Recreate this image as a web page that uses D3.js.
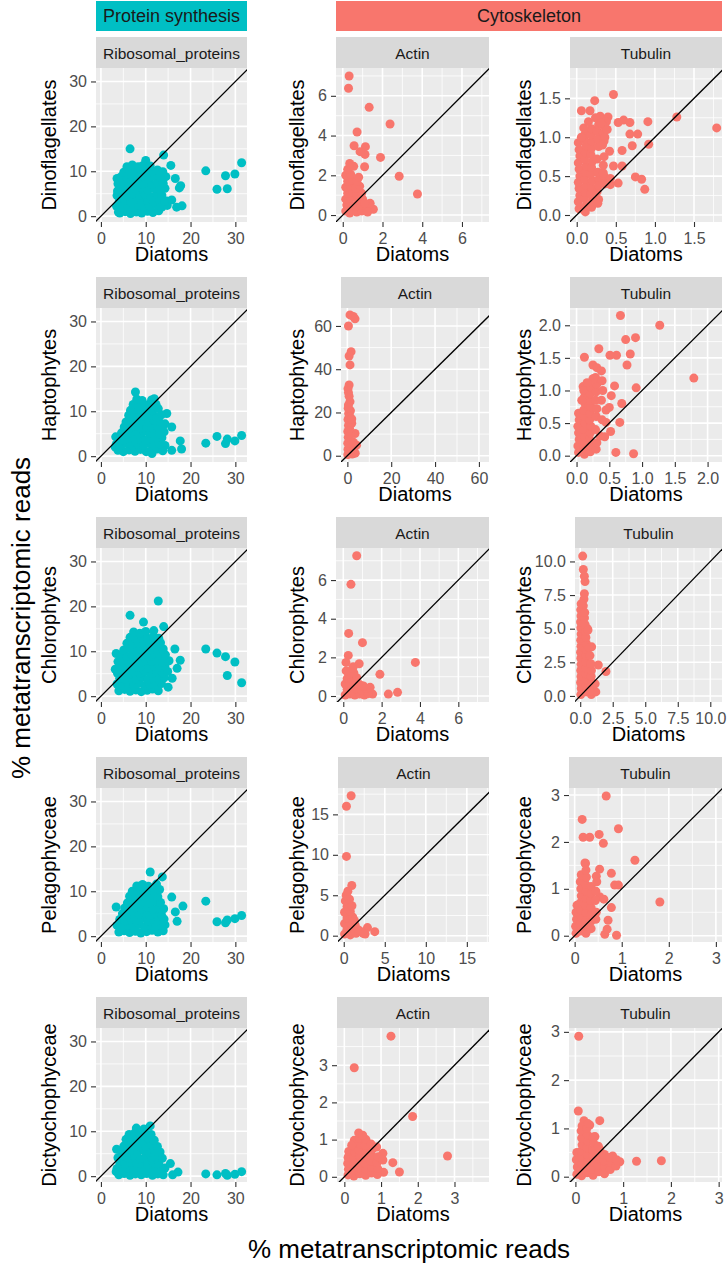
<!DOCTYPE html>
<html>
<head>
<meta charset="utf-8">
<script src="https://cdn.jsdelivr.net/npm/d3@7"></script>
<style>
  body { margin: 0; background: #fff; }
  svg { display: block; font-family: "Liberation Sans", Arial, sans-serif; }
</style>
</head>
<body>
<div id="chart"></div>
<script>
// chart size
var svgWidth = 728;
var svgHeight = 1265;

// facet labels
var groups = ["Ribosomal_proteins", "Actin", "Tubulin"];
var taxa = ["Dinoflagellates", "Haptophytes", "Chlorophytes", "Pelagophyceae", "Dictyochophyceae"];
var xTitle = "Diatoms";
var bigTitle = "% metatranscriptomic reads";

// tick labels, one list per panel (row = taxon, column = gene group)
var tickValues = [
    [[0, 10, 20, 30], [0, 2, 4, 6], [0, 0.5, 1, 1.5]],
    [[0, 10, 20, 30], [0, 20, 40, 60], [0, 0.5, 1, 1.5, 2]],
    [[0, 10, 20, 30], [0, 2, 4, 6], [0, 2.5, 5, 7.5, 10]],
    [[0, 10, 20, 30], [0, 5, 10, 15], [0, 1, 2, 3]],
    [[0, 10, 20, 30], [0, 1, 2, 3], [0, 1, 2, 3]]
];
var tickDecimals = [
    [0, 0, 1],
    [0, 0, 1],
    [0, 0, 1],
    [0, 0, 0],
    [0, 0, 0]
];

// % reads: [diatoms, other taxon]
var riboDino = [
    [23.4, 10.1], [25.9, 6.0], [27.8, 9.0], [28.2, 6.1], [29.9, 9.4], [31.4, 11.9],
    [6.5, 15.0], [14.0, 13.6], [10.0, 12.4], [15.6, 11.3], [16.6, 8.4], [17.8, 6.8], [17.5, 6.3],
    [15.8, 3.6], [16.9, 2.0], [18.1, 2.3], [14.7, 3.4], [3.6, 8.4], [3.7, 5.6], [3.9, 0.9],
    [4.2, 0.7], [5.4, 1.0], [6.6, 0.6], [7.9, 0.9], [9.1, 0.7], [10.4, 1.1], [11.6, 0.8], [12.9, 1.2],
    [3.5, 2.2], [4.8, 1.9], [6.0, 2.3], [7.2, 2.0], [8.5, 2.4], [9.8, 1.9], [11.0, 2.2], [12.3, 2.5], [13.6, 2.0], [14.8, 2.4],
    [4.1, 3.3], [5.3, 3.6], [6.6, 3.2], [7.8, 3.7], [9.1, 3.3], [10.4, 3.5], [11.7, 3.2], [12.9, 3.8], [14.2, 3.4],
    [3.6, 4.6], [4.8, 4.9], [6.1, 4.5], [7.3, 5.0], [8.6, 4.6], [9.9, 4.8], [11.1, 4.4], [12.4, 5.0], [13.6, 4.7],
    [4.2, 6.1], [5.5, 5.8], [6.7, 6.3], [8.0, 5.9], [9.2, 6.2], [10.5, 5.8], [11.8, 6.3], [13.0, 6.0], [14.3, 6.2],
    [3.8, 7.2], [5.0, 7.5], [6.2, 7.1], [7.5, 7.6], [8.8, 7.2], [10.0, 7.4], [11.3, 7.1], [12.6, 7.6], [13.9, 7.3],
    [4.4, 8.7], [5.7, 8.5], [6.9, 8.9], [8.2, 8.4], [9.4, 8.8], [10.7, 8.5], [12.0, 8.9], [13.2, 8.6], [14.5, 8.8],
    [5.1, 9.8], [6.3, 10.1], [7.6, 9.7], [8.9, 10.2], [10.1, 9.9], [11.4, 10.0], [12.6, 10.3], [13.8, 9.9],
    [5.8, 11.0], [7.0, 11.4], [8.3, 11.0], [9.4, 11.3], [11.0, 11.2]
];
var actinDino = [
    [0.32, 7.0], [0.29, 6.38], [1.33, 5.42], [2.38, 4.58], [0.72, 4.18], [0.57, 3.49], [1.14, 3.44],
    [1.12, 3.05], [0.87, 3.19], [1.9, 2.9], [1.1, 2.43], [2.84, 1.95], [3.76, 1.06], [1.54, 0.29], [1.38, 0.59],
    [0.15, 0.2], [0.35, 0.1], [0.2, 0.5], [0.45, 0.45], [0.15, 0.8], [0.4, 0.85], [0.25, 1.1], [0.5, 1.15],
    [0.15, 1.4], [0.4, 1.45], [0.25, 1.7], [0.5, 1.75], [0.15, 2.0], [0.4, 2.05], [0.25, 2.3], [0.55, 2.45], [0.35, 2.6],
    [0.7, 0.15], [0.95, 0.2], [0.65, 0.45], [0.9, 0.5], [0.75, 0.75], [1.0, 0.8], [0.7, 1.05], [0.95, 1.1],
    [0.65, 1.35], [0.85, 1.45], [0.7, 1.7], [0.8, 1.9], [1.2, 0.3], [1.35, 0.55], [1.25, 0.15], [1.1, 0.6]
];
var tubulinDino = [
    [0.47, 1.55], [0.23, 1.47], [0.06, 1.34], [0.17, 1.34], [0.30, 1.27], [0.40, 1.26], [0.38, 1.2],
    [0.53, 1.19], [0.6, 1.22], [0.68, 1.19], [0.91, 1.2], [1.28, 1.26], [1.79, 1.12], [0.68, 1.04],
    [0.78, 1.04], [0.71, 0.89], [0.58, 0.83], [0.92, 0.91], [0.47, 0.63], [0.58, 0.63], [0.75, 0.49],
    [0.83, 0.46], [0.87, 0.33], [0.53, 0.41], [0.43, 0.39], [0.28, 0.2], [0.21, 0.16], [0.09, 0.09],
    [0.03, 0.08], [0.02, 0.17], [0.04, 0.25], [0.03, 0.34], [0.02, 0.42], [0.04, 0.50], [0.03, 0.59], [0.02, 0.67], [0.04, 0.76], [0.03, 0.84], [0.02, 0.93],
    [0.11, 0.04], [0.12, 0.12], [0.10, 0.21], [0.11, 0.29], [0.12, 0.38], [0.10, 0.46], [0.11, 0.55], [0.12, 0.63], [0.10, 0.72], [0.11, 0.80], [0.12, 0.89], [0.10, 0.97], [0.11, 1.05],
    [0.19, 0.10], [0.20, 0.18], [0.18, 0.27], [0.19, 0.35], [0.20, 0.44], [0.18, 0.52], [0.19, 0.61], [0.20, 0.69], [0.18, 0.78], [0.19, 0.86], [0.20, 0.95], [0.18, 1.03], [0.19, 1.11],
    [0.27, 0.15], [0.26, 0.30], [0.28, 0.46], [0.27, 0.55], [0.26, 0.72], [0.28, 0.88], [0.27, 0.98], [0.26, 1.08], [0.28, 1.16],
    [0.35, 0.50], [0.35, 0.95], [0.34, 1.05], [0.36, 1.13],
    [0.06, 1.0], [0.09, 1.12], [0.15, 1.2], [0.24, 1.25], [0.31, 1.18], [0.36, 1.0], [0.33, 0.9], [0.39, 1.1],
    [0.34, 0.54], [0.43, 0.47], [0.36, 0.4], [0.28, 0.38], [0.35, 0.75], [0.42, 0.82], [0.34, 0.64]
];
var riboHapto = [
    [23.4, 2.9], [25.9, 4.4], [27.8, 2.8], [28.2, 3.8], [29.9, 3.4], [31.4, 4.6],
    [7.7, 14.3], [11.9, 12.8], [14.7, 9.5], [14.3, 7.2], [15.8, 6.5], [14.1, 5.4], [17.7, 3.4],
    [18.0, 1.6], [15.8, 1.3], [14.3, 2.4], [11.4, 0.6], [3.3, 4.3], [3.2, 2.0],
    [3.8, 1.3], [5.0, 1.0], [6.3, 1.4], [7.6, 1.1], [8.8, 1.5], [10.1, 1.0], [11.4, 1.3], [12.6, 1.6], [13.8, 1.2],
    [3.4, 2.6], [4.5, 2.4], [5.7, 2.8], [7.0, 2.3], [8.2, 2.7], [9.5, 2.4], [10.7, 2.8], [12.0, 2.5], [13.2, 2.7],
    [3.9, 3.9], [5.1, 3.6], [6.4, 4.0], [7.6, 3.7], [8.9, 4.1], [10.1, 3.6], [11.4, 3.9], [12.7, 3.7], [13.6, 4.1],
    [4.6, 5.2], [5.8, 4.9], [7.0, 5.3], [8.3, 5.0], [9.5, 5.4], [10.8, 5.1], [12.0, 5.3], [13.1, 5.0],
    [5.2, 6.5], [6.4, 6.2], [7.7, 6.6], [8.9, 6.3], [10.2, 6.5], [11.4, 6.2], [12.6, 6.6], [13.7, 6.3],
    [5.6, 7.6], [6.9, 7.9], [8.1, 7.5], [9.4, 7.8], [10.6, 7.6], [11.9, 8.0], [13.0, 7.7],
    [6.2, 9.1], [7.4, 8.8], [8.7, 9.2], [9.9, 8.9], [11.2, 9.1], [12.4, 8.8], [13.5, 9.2],
    [6.6, 10.2], [7.9, 10.5], [9.1, 10.1], [10.4, 10.4], [11.6, 10.2], [12.8, 10.6],
    [7.2, 11.5], [8.5, 11.8], [9.8, 11.4], [11.0, 11.7], [12.3, 11.5],
    [8.0, 12.7], [9.2, 12.4], [11.3, 12.5]
];
var actinHapto = [
    [1.2, 65.1], [2.7, 64.4], [3.5, 63.3], [0.5, 60.0], [1.7, 48.1], [0.8, 46.1], [1.2, 42.0],
    [0.8, 32.7], [0.5, 29.2], [1.2, 25.0], [0.5, 23.5], [3.5, 10.3], [4.2, 4.9], [2.0, 15.0],
    [0.2, 0.5], [1.2, 1.5], [2.2, 0.8], [0.3, 3.0], [1.3, 4.2], [2.5, 2.8], [0.2, 5.8], [1.1, 7.0],
    [0.4, 8.5], [1.4, 9.8], [0.2, 11.2], [1.0, 12.6], [0.5, 14.0], [1.5, 15.3], [0.3, 16.8], [1.1, 18.2],
    [0.6, 19.5], [1.4, 20.8], [0.4, 22.0], [2.0, 17.0], [3.0, 3.5], [3.6, 1.2], [2.8, 6.2], [0.8, 27.5], [0.3, 31.0]
];
var tubulinHapto = [
    [0.67, 2.15], [1.27, 2.0], [0.9, 1.81], [0.75, 1.78], [0.34, 1.64], [0.61, 1.54], [0.51, 1.54],
    [0.82, 1.56], [0.12, 1.51], [0.77, 1.39], [0.25, 1.39], [0.31, 1.35], [1.79, 1.19], [0.91, 1.04],
    [0.58, 1.07], [0.53, 0.92], [0.5, 0.74], [0.69, 0.8], [0.45, 0.51], [0.66, 0.51], [0.52, 0.37],
    [0.43, 0.29], [0.6, 0.05], [0.87, 0.03], [0.1, 1.06],
    [0.03, 0.05], [0.02, 0.15], [0.04, 0.25], [0.03, 0.35], [0.02, 0.45], [0.04, 0.55], [0.03, 0.65],
    [0.12, 0.02], [0.11, 0.11], [0.13, 0.2], [0.12, 0.3], [0.11, 0.4], [0.13, 0.5], [0.12, 0.6], [0.11, 0.7], [0.13, 0.8], [0.12, 0.9], [0.11, 1.0],
    [0.21, 0.06], [0.22, 0.15], [0.20, 0.25], [0.21, 0.35], [0.22, 0.45], [0.20, 0.55], [0.21, 0.65], [0.22, 0.75], [0.20, 0.85], [0.21, 0.95], [0.22, 1.05],
    [0.30, 0.1], [0.31, 0.2], [0.29, 0.4], [0.30, 0.6], [0.31, 0.72], [0.29, 0.85], [0.30, 0.98], [0.31, 1.1], [0.29, 1.2],
    [0.39, 0.55], [0.38, 0.85], [0.40, 1.0], [0.39, 1.15], [0.38, 1.3],
    [0.08, 0.85], [0.45, 0.7], [0.36, 0.3], [0.25, 1.18], [0.16, 1.12]
];
var riboChloro = [
    [23.4, 10.5], [25.9, 9.6], [27.8, 8.8], [28.2, 4.6], [29.9, 7.6], [31.4, 3.0],
    [12.8, 21.2], [6.5, 18.0], [9.5, 16.5], [14.0, 15.5], [16.5, 10.5], [17.7, 8.0], [17.0, 6.2],
    [15.9, 4.0], [15.0, 2.0], [3.4, 9.5], [3.2, 6.0],
    [4.0, 1.2], [5.3, 1.5], [6.5, 1.1], [7.8, 1.4], [9.0, 1.0], [10.3, 1.3], [11.5, 1.6], [12.8, 1.2],
    [3.6, 2.7], [4.8, 2.4], [6.0, 2.8], [7.3, 2.5], [8.5, 2.9], [9.8, 2.4], [11.0, 2.7], [12.3, 2.5], [13.5, 2.8],
    [4.2, 4.0], [5.4, 3.7], [6.7, 4.1], [7.9, 3.8], [9.2, 4.2], [10.4, 3.7], [11.7, 4.0], [12.9, 3.8], [14.1, 4.1],
    [3.7, 5.1], [4.9, 5.4], [6.2, 5.0], [7.4, 5.3], [8.7, 5.1], [9.9, 5.5], [11.2, 5.0], [12.4, 5.3], [13.7, 5.2], [14.9, 5.5],
    [4.3, 6.6], [5.6, 6.3], [6.8, 6.7], [8.1, 6.4], [9.3, 6.8], [10.6, 6.3], [11.8, 6.6], [13.1, 6.4], [14.3, 6.7],
    [3.8, 7.7], [5.0, 8.0], [6.3, 7.6], [7.5, 7.9], [8.8, 7.5], [10.0, 8.0], [11.3, 7.7], [12.5, 7.9], [13.8, 7.6], [15.2, 7.9],
    [4.5, 9.2], [5.7, 8.9], [7.0, 9.3], [8.2, 9.0], [9.5, 9.2], [10.7, 8.9], [12.0, 9.3], [13.2, 9.0], [14.4, 9.2],
    [5.1, 10.3], [6.4, 10.6], [7.6, 10.2], [8.9, 10.5], [10.1, 10.3], [11.4, 10.6], [12.6, 10.2], [13.9, 10.5],
    [5.8, 11.8], [7.1, 11.5], [8.3, 11.9], [9.6, 11.6], [10.8, 11.8], [12.1, 11.5], [13.3, 11.9],
    [6.5, 13.1], [7.8, 12.8], [9.1, 13.2], [10.4, 12.9], [11.7, 13.3], [12.9, 12.9],
    [7.3, 14.3], [8.7, 14.0], [10.0, 14.4], [11.8, 14.6]
];
var actinChloro = [
    [0.70, 7.26], [0.4, 5.78], [0.28, 3.24], [1.0, 2.76], [0.26, 2.1], [0.14, 1.74], [0.83, 1.67],
    [0.52, 1.52], [3.76, 1.74], [1.91, 1.12], [2.35, 0.1], [2.83, 0.19], [1.53, 0.1],
    [0.1, 0.05], [0.35, 0.1], [0.6, 0.05], [0.85, 0.1], [1.1, 0.05], [1.3, 0.12],
    [0.2, 0.35], [0.45, 0.3], [0.7, 0.38], [0.95, 0.32], [1.2, 0.4], [1.4, 0.45],
    [0.1, 0.62], [0.35, 0.6], [0.6, 0.65], [0.85, 0.6], [1.05, 0.52],
    [0.2, 0.9], [0.45, 0.88], [0.7, 0.95], [0.3, 1.15], [0.55, 1.2], [0.15, 1.3], [0.48, 1.42]
];
var tubulinChloro = [
    [0.19, 10.4], [0.24, 9.4], [0.32, 8.9], [0.37, 8.5], [0.32, 7.6], [0.29, 7.2], [0.24, 6.7],
    [0.55, 5.0], [0.88, 3.65], [1.39, 2.3], [1.98, 1.82],
    [0.05, 0.1], [0.08, 0.55], [0.03, 1.0], [0.06, 1.45], [0.04, 1.9], [0.07, 2.35], [0.05, 2.8], [0.03, 3.25],
    [0.06, 3.7], [0.04, 4.15], [0.07, 4.6], [0.05, 5.05], [0.03, 5.5], [0.06, 5.95], [0.04, 6.4], [0.07, 6.85],
    [0.45, 0.3], [0.43, 0.75], [0.47, 1.2], [0.44, 1.65], [0.46, 2.1], [0.42, 2.55], [0.45, 3.0], [0.43, 3.45],
    [0.47, 3.9], [0.44, 4.35], [0.41, 4.8], [0.38, 5.3], [0.33, 5.8],
    [0.85, 0.1], [0.83, 0.55], [0.87, 1.0], [0.84, 1.45], [0.86, 1.9], [0.82, 2.4], [0.75, 3.0],
    [1.2, 0.3], [1.15, 0.9], [0.7, 3.6], [0.6, 4.9], [0.35, 6.2], [0.75, 0.35]
];
var riboPelago = [
    [23.4, 7.8], [25.9, 3.2], [27.8, 3.0], [28.2, 3.6], [29.9, 3.9], [31.4, 4.6],
    [11.0, 14.3], [13.7, 13.2], [18.3, 6.7], [16.6, 5.4], [14.3, 2.5], [17.0, 3.3], [15.8, 8.7], [3.4, 6.5],
    [4.0, 0.9], [5.2, 1.2], [6.4, 0.8], [7.7, 1.1], [8.9, 0.7], [10.2, 1.0], [11.4, 1.3], [12.7, 0.9], [13.9, 1.2],
    [3.6, 2.4], [4.7, 2.1], [6.0, 2.5], [7.2, 2.2], [8.5, 2.6], [9.7, 2.1], [11.0, 2.4], [12.2, 2.2], [13.5, 2.5],
    [4.2, 3.7], [5.4, 3.4], [6.6, 3.8], [7.9, 3.5], [9.1, 3.9], [10.4, 3.4], [11.6, 3.7], [12.9, 3.5], [14.1, 3.8],
    [4.8, 5.0], [6.0, 4.7], [7.3, 5.1], [8.5, 4.8], [9.8, 5.2], [11.0, 4.7], [12.3, 5.0], [13.5, 4.8],
    [5.3, 6.3], [6.6, 6.0], [7.8, 6.4], [9.1, 6.1], [10.3, 6.5], [11.6, 6.0], [12.8, 6.3], [14.0, 6.1],
    [5.9, 7.4], [7.1, 7.7], [8.4, 7.3], [9.6, 7.6], [10.9, 7.4], [12.1, 7.8], [13.3, 7.5],
    [6.4, 8.9], [7.7, 8.6], [8.9, 9.0], [10.2, 8.7], [11.4, 9.1], [12.7, 8.8],
    [7.0, 10.0], [8.3, 10.3], [9.5, 9.9], [10.8, 10.2], [12.0, 10.0], [13.1, 10.4],
    [8.0, 11.2], [9.3, 11.5], [10.6, 11.1], [12.4, 11.6]
];
var actinPelago = [
    [0.9, 17.3], [0.33, 16.0], [0.33, 9.8], [0.98, 6.2], [3.78, 0.5], [2.89, 1.0], [2.36, 0.3],
    [0.1, 0.2], [0.8, 0.1], [1.5, 0.3], [2.1, 0.5], [0.4, 0.8], [1.1, 0.9], [1.8, 0.7], [0.1, 1.5],
    [0.8, 1.6], [1.4, 1.3], [0.4, 2.2], [1.1, 2.3], [0.1, 2.9], [0.8, 3.0], [0.4, 3.6], [1.0, 3.7],
    [0.2, 4.3], [0.7, 4.5], [0.3, 5.0], [0.5, 5.5], [1.3, 1.9], [2.6, 0.2]
];
var tubulinPelago = [
    [0.67, 2.98], [0.16, 2.48], [0.18, 2.1], [0.32, 2.1], [0.52, 2.16], [0.61, 1.97], [0.93, 2.28],
    [1.28, 1.61], [1.81, 0.72], [0.53, 1.42], [0.46, 1.27], [0.78, 1.33], [0.85, 1.08], [0.93, 1.08],
    [0.23, 1.54], [0.78, 0.6], [0.89, 0.01], [0.64, 0.03], [0.69, 0.14], [0.71, 0.33], [0.53, 0.83], [0.62, 0.78],
    [0.03, 0.05], [0.02, 0.2], [0.04, 0.35], [0.03, 0.5], [0.05, 0.65],
    [0.13, 0.1], [0.12, 0.25], [0.14, 0.4], [0.13, 0.55], [0.12, 0.7], [0.14, 0.85], [0.13, 1.0], [0.12, 1.15], [0.14, 1.3],
    [0.24, 0.05], [0.23, 0.2], [0.25, 0.35], [0.24, 0.5], [0.23, 0.65], [0.25, 0.8], [0.24, 0.95], [0.23, 1.1], [0.25, 1.25], [0.24, 1.4], [0.22, 1.55],
    [0.35, 0.15], [0.34, 0.3], [0.36, 0.45], [0.35, 0.6], [0.34, 0.75], [0.36, 0.9], [0.35, 1.05],
    [0.45, 0.35], [0.46, 0.5], [0.44, 0.75], [0.45, 0.95], [0.47, 1.15]
];
var riboDictyo = [
    [23.4, 0.5], [25.9, 0.3], [27.8, 0.6], [28.2, 0.2], [29.9, 0.4], [31.4, 1.0],
    [14.3, 1.8], [17.2, 0.9], [16.0, 0.3], [15.5, 2.8], [3.5, 6.0], [3.4, 1.0],
    [4.0, 0.3], [5.2, 0.6], [6.5, 0.2], [7.7, 0.5], [9.0, 0.3], [10.2, 0.6], [11.5, 0.2], [12.7, 0.5], [13.9, 0.3],
    [3.6, 1.7], [4.8, 1.4], [6.0, 1.8], [7.3, 1.5], [8.5, 1.9], [9.8, 1.4], [11.0, 1.7], [12.3, 1.5], [13.5, 1.8],
    [4.2, 3.0], [5.4, 2.7], [6.7, 3.1], [7.9, 2.8], [9.2, 3.2], [10.4, 2.7], [11.7, 3.0], [12.9, 2.8],
    [3.8, 4.1], [5.0, 4.4], [6.3, 4.0], [7.5, 4.3], [8.8, 3.9], [10.0, 4.4], [11.3, 4.1], [12.5, 4.3], [13.7, 4.0],
    [4.5, 5.6], [5.7, 5.3], [7.0, 5.7], [8.2, 5.4], [9.5, 5.8], [10.7, 5.3], [12.0, 5.6], [13.2, 5.4],
    [5.1, 6.7], [6.4, 7.0], [7.6, 6.6], [8.9, 6.9], [10.1, 6.7], [11.4, 7.0], [12.6, 6.6],
    [5.6, 8.2], [6.9, 7.9], [8.1, 8.3], [9.4, 8.0], [10.6, 8.4], [11.9, 8.0],
    [6.3, 9.3], [7.5, 9.6], [8.8, 9.2], [10.0, 9.5], [11.2, 9.3],
    [7.9, 10.7], [9.6, 10.5], [11.0, 11.2]
];
var actinDictyo = [
    [1.27, 3.78], [0.27, 2.93], [1.86, 1.62], [2.81, 0.56], [1.32, 0.38], [1.5, 0.13], [1.07, 0.12], [1.05, 0.63],
    [0.1, 0.05], [0.11, 0.2], [0.09, 0.36], [0.1, 0.52], [0.12, 0.68],
    [0.26, 0.02], [0.27, 0.18], [0.25, 0.34], [0.26, 0.5], [0.28, 0.66], [0.25, 0.82], [0.27, 0.98],
    [0.42, 0.08], [0.41, 0.24], [0.43, 0.4], [0.42, 0.56], [0.4, 0.72], [0.43, 0.88], [0.41, 1.04], [0.39, 1.18],
    [0.58, 0.04], [0.59, 0.2], [0.57, 0.36], [0.58, 0.52], [0.6, 0.68], [0.57, 0.84], [0.59, 1.0],
    [0.74, 0.1], [0.75, 0.26], [0.73, 0.42], [0.74, 0.58], [0.76, 0.74], [0.73, 0.88],
    [0.9, 0.06], [0.91, 0.22], [0.89, 0.38], [0.92, 0.54], [0.88, 0.8],
    [1.05, 0.45], [0.2, 0.85], [0.5, 1.12]
];
var tubulinDictyo = [
    [0.07, 2.91], [0.06, 1.36], [0.51, 1.16], [0.18, 1.16], [0.3, 1.07], [1.28, 0.32], [1.8, 0.33],
    [0.93, 0.31], [0.78, 0.43], [0.41, 0.83], [0.51, 0.57],
    [0.03, 0.05], [0.04, 0.2], [0.02, 0.35], [0.03, 0.5],
    [0.13, 0.02], [0.12, 0.14], [0.14, 0.27], [0.13, 0.4], [0.12, 0.53], [0.14, 0.66], [0.13, 0.8], [0.12, 0.95], [0.14, 1.05],
    [0.25, 0.08], [0.24, 0.2], [0.26, 0.33], [0.25, 0.46], [0.24, 0.6], [0.26, 0.73], [0.25, 0.87], [0.24, 1.0], [0.26, 1.1],
    [0.37, 0.03], [0.36, 0.16], [0.38, 0.3], [0.37, 0.43], [0.36, 0.56], [0.38, 0.7], [0.37, 0.82],
    [0.49, 0.1], [0.48, 0.24], [0.5, 0.37], [0.49, 0.5], [0.48, 0.63],
    [0.61, 0.06], [0.62, 0.2], [0.6, 0.33], [0.61, 0.46],
    [0.73, 0.15], [0.74, 0.3], [0.72, 0.4], [0.85, 0.22], [0.86, 0.35]
];

var panelData = [
    [riboDino, actinDino, tubulinDino],
    [riboHapto, actinHapto, tubulinHapto],
    [riboChloro, actinChloro, tubulinChloro],
    [riboPelago, actinPelago, tubulinPelago],
    [riboDictyo, actinDictyo, tubulinDictyo]
];

// axis ranges ([lo, hi] incl. ggplot expansion)
var xDomains = [
    [[-1.1, 32.6], [-0.34, 7.36], [-0.086, 1.858]],
    [[-1.1, 32.6], [-2.9, 64.6], [-0.10, 2.22]],
    [[-1.1, 32.6], [-0.38, 7.6], [-0.4, 10.9]],
    [[-1.1, 32.6], [-0.7, 17.7], [-0.12, 3.13]],
    [[-1.1, 32.6], [-0.2, 3.94], [-0.134, 3.07]]
];
var yDomains = [
    [[-1.3, 33.0], [-0.35, 7.40], [-0.09, 1.89]],
    [[-1.3, 33.0], [-2.9, 68.3], [-0.097, 2.265]],
    [[-1.3, 33.0], [-0.31, 7.66], [-0.45, 11.0]],
    [[-1.3, 33.0], [-0.78, 18.26], [-0.134, 3.15]],
    [[-1.3, 33.0], [-0.14, 4.0], [-0.11, 3.08]]
];

// layout
var panelLeft = [[96, 336, 570], [96, 341, 570], [96, 336, 575], [96, 338, 569], [96, 337, 569]];
var panelRight = [247, 489, 722];
var rowTop = [68, 308, 548, 788, 1028];
var panelH = 154;
var stripH = 31;
var yTitleX = [50, 298, 525];
var pointColor = ["#00BFC4", "#F8766D", "#F8766D"];

//create svg wrapper
var svg = d3.select("#chart")
    .append("svg")
    .attr("width", svgWidth)
    .attr("height", svgHeight);

// top group strips
var topStrips = [
    {label: "Protein synthesis", x0: 96, x1: 247, fill: "#00BFC4"},
    {label: "Cytoskeleton", x0: 336, x1: 722, fill: "#F8766D"}
];
topStrips.forEach(function(s) {
    svg.append("rect")
        .attr("x", s.x0).attr("y", 1)
        .attr("width", s.x1 - s.x0).attr("height", 30)
        .attr("fill", s.fill);
    svg.append("text")
        .attr("x", (s.x0 + s.x1) / 2).attr("y", 21.5)
        .attr("text-anchor", "middle")
        .attr("font-size", 18)
        .attr("fill", "#1A1A1A")
        .text(s.label);
});

function drawPanel(r, c) {
    var left = panelLeft[r][c], right = panelRight[c];
    var top = rowTop[r], bottom = top + panelH;
    var ticks = tickValues[r][c];
    var fmt = d3.format("." + tickDecimals[r][c] + "f");

    var x = d3.scaleLinear().domain(xDomains[r][c]).range([left, right]);
    var y = d3.scaleLinear().domain(yDomains[r][c]).range([bottom, top]);

    var g = svg.append("g");

    // strip
    g.append("rect")
        .attr("x", left).attr("y", top - stripH)
        .attr("width", right - left).attr("height", stripH)
        .attr("fill", "#D9D9D9");
    g.append("text")
        .attr("x", (left + right) / 2).attr("y", top - 9.5)
        .attr("text-anchor", "middle")
        .attr("font-size", 15.5)
        .attr("fill", "#1A1A1A")
        .text(groups[c]);

    // panel background
    g.append("rect")
        .attr("x", left).attr("y", top)
        .attr("width", right - left).attr("height", panelH)
        .attr("fill", "#EBEBEB");

    // minor breaks half way between major ones
    var step = ticks[1] - ticks[0];
    var maxHi = Math.max(x.domain()[1], y.domain()[1]);
    var minor = d3.range(ticks[0] - step / 2, maxHi + step, step);
    var xMinor = minor.filter(function(v) { return v > x.domain()[0] && v < x.domain()[1]; });
    var yMinor = minor.filter(function(v) { return v > y.domain()[0] && v < y.domain()[1]; });

    g.selectAll(".xminor").data(xMinor).enter().append("line")
        .attr("x1", d => x(d)).attr("x2", d => x(d))
        .attr("y1", top).attr("y2", bottom)
        .attr("stroke", "#fff").attr("stroke-width", 0.8);
    g.selectAll(".yminor").data(yMinor).enter().append("line")
        .attr("y1", d => y(d)).attr("y2", d => y(d))
        .attr("x1", left).attr("x2", right)
        .attr("stroke", "#fff").attr("stroke-width", 0.8);
    g.selectAll(".xmajor").data(ticks).enter().append("line")
        .attr("x1", d => x(d)).attr("x2", d => x(d))
        .attr("y1", top).attr("y2", bottom)
        .attr("stroke", "#fff").attr("stroke-width", 1.6);
    g.selectAll(".ymajor").data(ticks).enter().append("line")
        .attr("y1", d => y(d)).attr("y2", d => y(d))
        .attr("x1", left).attr("x2", right)
        .attr("stroke", "#fff").attr("stroke-width", 1.6);

    // clip for points and the 1:1 line
    var clipId = "clip-" + r + "-" + c;
    svg.append("clipPath").attr("id", clipId)
        .append("rect")
        .attr("x", left).attr("y", top)
        .attr("width", right - left).attr("height", panelH);

    var inner = g.append("g").attr("clip-path", "url(#" + clipId + ")");

    inner.selectAll("circle")
        .data(panelData[r][c])
        .enter()
        .append("circle")
        .attr("cx", d => x(d[0]))
        .attr("cy", d => y(d[1]))
        .attr("r", 4.5)
        .attr("fill", pointColor[c]);

    // y = x line
    var lo = Math.min(x.domain()[0], y.domain()[0]);
    var hi = Math.max(x.domain()[1], y.domain()[1]);
    inner.append("line")
        .attr("x1", x(lo)).attr("y1", y(lo))
        .attr("x2", x(hi)).attr("y2", y(hi))
        .attr("stroke", "#000")
        .attr("stroke-width", 1.3);

    // axes
    var bottomAxis = d3.axisBottom(x).tickValues(ticks).tickFormat(fmt).tickSize(5).tickPadding(6);
    var leftAxis = d3.axisLeft(y).tickValues(ticks).tickFormat(fmt).tickSize(5).tickPadding(4);

    var xAxis = g.append("g")
        .attr("transform", `translate(0, ${bottom})`)
        .call(bottomAxis);
    var yAxis = g.append("g")
        .attr("transform", `translate(${left}, 0)`)
        .call(leftAxis);

    [xAxis, yAxis].forEach(function(a) {
        a.select(".domain").remove();
        a.selectAll("line").attr("stroke", "#333333").attr("stroke-width", 1.1);
        a.selectAll("text")
            .attr("fill", "#4D4D4D")
            .attr("font-size", 16)
            .attr("font-family", "Liberation Sans, Arial, sans-serif");
    });

    // axis titles
    g.append("text")
        .attr("x", (left + right) / 2).attr("y", bottom + 39)
        .attr("text-anchor", "middle")
        .attr("font-size", 20)
        .attr("fill", "#000")
        .text(xTitle);
    g.append("text")
        .attr("transform", `translate(${yTitleX[c] + 6}, ${(top + bottom) / 2}) rotate(-90)`)
        .attr("text-anchor", "middle")
        .attr("font-size", 20)
        .attr("fill", "#000")
        .text(taxa[r]);
}

taxa.forEach(function(t, r) {
    groups.forEach(function(gr, c) {
        drawPanel(r, c);
    });
});

// overall axis titles
svg.append("text")
    .attr("x", 409).attr("y", 1258)
    .attr("text-anchor", "middle")
    .attr("font-size", 26)
    .attr("fill", "#000")
    .text(bigTitle);
svg.append("text")
    .attr("transform", "translate(30, 618) rotate(-90)")
    .attr("text-anchor", "middle")
    .attr("font-size", 26)
    .attr("fill", "#000")
    .text(bigTitle);
</script>
</body>
</html>
